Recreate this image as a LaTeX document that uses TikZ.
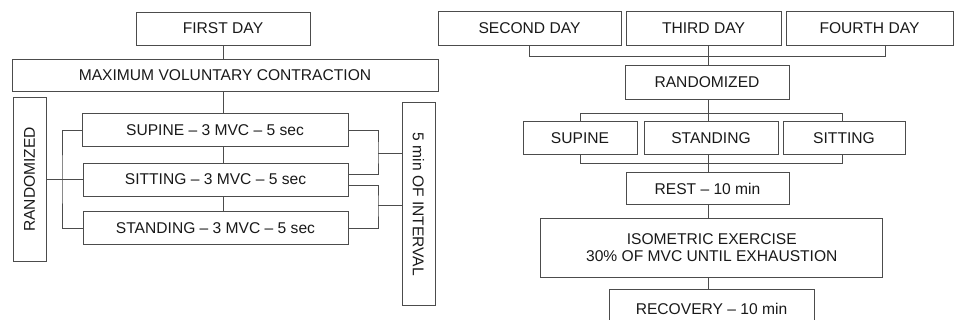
\documentclass[tikz,border=0pt]{standalone}
\usepackage{fontspec}
\setmainfont{Liberation Sans}
\tikzset{
  stage/.style={draw=black!70, line width=0.7pt, text=black!90, inner sep=0pt,
    minimum height=33pt, font=\fontsize{15.6}{17}\selectfont},
  link/.style={draw=black!70, line width=0.7pt},
}
\begin{document}
\begin{tikzpicture}[x=1pt,y=-1pt]
    \useasboundingbox (0,0) rectangle (954,320);
    \clip (0,0) rectangle (954,320);

    % first day
    \node[stage, minimum width=174pt] (first) at (223,28.5) {FIRST DAY};
    \node[stage, minimum width=426pt, minimum height=32pt] (mvc) at (225,75) {MAXIMUM VOLUNTARY CONTRACTION};
    \node[stage, minimum width=33pt, minimum height=164pt] (randA) at (29.5,179.5) {\rotatebox{90}{RANDOMIZED}};
    \node[stage, minimum width=266pt] (supA) at (215,130.2) {SUPINE -- 3 MVC -- 5 sec};
    \node[stage, minimum width=265pt] (sitA) at (215.5,179.5) {SITTING -- 3 MVC -- 5 sec};
    \node[stage, minimum width=265pt] (stdA) at (215.5,228.2) {STANDING -- 3 MVC -- 5 sec};
    \node[stage, minimum width=33pt, minimum height=203pt] (pause) at (418.5,204.3) {\rotatebox{-90}{5 min OF INTERVAL}};

    \coordinate (forkA) at (62,179.5);
    \coordinate (joinA) at (378,153);
    \coordinate (joinB) at (378,205);

    \draw[link] (first.south) -- (first.south |- mvc.north);
    \draw[link] (mvc.south -| first) -- (supA.north -| first);
    \draw[link] (supA.south -| first) -- (sitA.north -| first);
    \draw[link] (sitA.south -| first) -- (stdA.north -| first);
    \draw[link] (randA.east) -- (sitA.west);
    \draw[link] (supA.west) -| (forkA) |- (stdA.west);
    \draw[link] (supA.east) -| (joinA) |- ([yshift=5.5pt]sitA.east);
    \draw[link] ([yshift=-5.5pt]sitA.east) -| (joinB) |- (stdA.east);
    \draw[link] (joinA) -- (joinA -| pause.west);
    \draw[link] (joinB) -- (joinB -| pause.west);

    % second to fourth day
    \node[stage, minimum width=183pt, minimum height=34pt] (dayB) at (529.5,28.2) {SECOND DAY};
    \node[stage, minimum width=155pt, minimum height=34pt] (dayC) at (703.5,28.2) {THIRD DAY};
    \node[stage, minimum width=167pt, minimum height=34pt] (dayD) at (869.5,28.2) {FOURTH DAY};
    \node[stage, minimum width=164pt, minimum height=34pt] (randB) at (707,82) {RANDOMIZED};
    \node[stage, minimum width=114pt] (supB) at (580,138.3) {SUPINE};
    \node[stage, minimum width=134pt] (stdB) at (711,138.3) {STANDING};
    \node[stage, minimum width=122pt] (sitB) at (844,138.3) {SITTING};
    \node[stage, minimum width=163pt, minimum height=32pt] (rest) at (707.5,188.8) {REST -- 10 min};
    \node[stage, minimum width=342pt, minimum height=59pt, align=center] (iso) at (711.8,247.8) {ISOMETRIC EXERCISE\\30\% OF MVC UNTIL EXHAUSTION};
    \node[stage, minimum width=205pt, minimum height=40pt] (recov) at (711.5,309) {RECOVERY -- 10 min};

    \coordinate (barB) at (708,56.7);
    \coordinate (barC) at (708,113.3);
    \coordinate (barD) at (708,163.3);

    \draw[link] (dayB.south) |- (barB) -| ([xshift=15.5pt]dayD.south);
    \draw[link] (dayC.south -| barB) -- (randB.north -| barB);
    \draw[link] (randB.south -| barC) -- (barC);
    \draw[link] (supB.north) |- (barC) -| ([xshift=-2pt]sitB.north);
    \draw[link] (barC) -- (stdB.north -| barC);
    \draw[link] (supB.south) |- (barD) -| ([xshift=-2pt]sitB.south);
    \draw[link] (stdB.south -| barD) -- (rest.north -| barD);
    \draw[link] (rest.south -| barD) -- (iso.north -| barD);
    \draw[link] (iso.south -| barD) -- (recov.north -| barD);
\end{tikzpicture}
\end{document}
